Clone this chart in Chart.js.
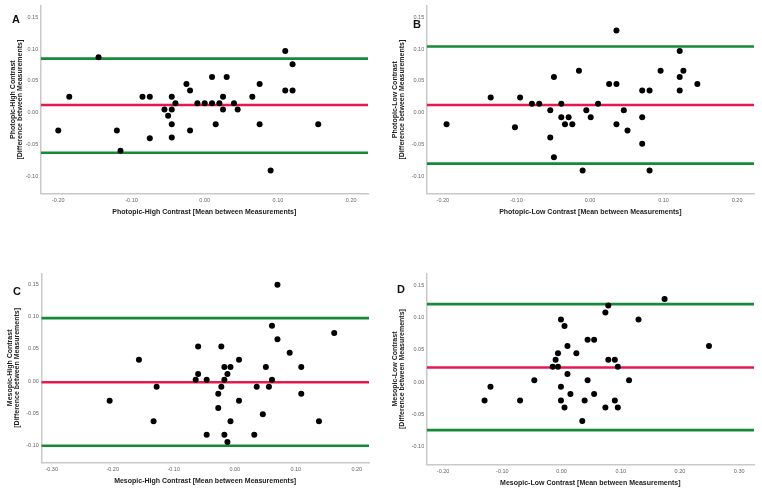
<!DOCTYPE html>
<html><head><meta charset="utf-8">
<script src="https://cdn.jsdelivr.net/npm/chart.js@4.4.1/dist/chart.umd.min.js"></script>
<style>
html,body{margin:0;padding:0;background:#fff;width:762px;height:493px;overflow:hidden;position:relative;}
.panel{position:absolute;width:381px;height:246px;}
.letter{position:absolute;font:bold 11px "Liberation Sans",Arial,sans-serif;color:#111;transform:translate(-50%,-50%);line-height:1;}
</style></head><body>
<div class="panel" style="left:0;top:0"><canvas id="cA" width="381" height="246"></canvas></div>
<div class="panel" style="left:381px;top:0"><canvas id="cB" width="381" height="246"></canvas></div>
<div class="panel" style="left:0;top:247px"><canvas id="cC" width="381" height="246"></canvas></div>
<div class="panel" style="left:381px;top:247px"><canvas id="cD" width="381" height="246"></canvas></div>
<div class="letter" style="left:16px;top:19px">A</div>
<div class="letter" style="left:417px;top:24px">B</div>
<div class="letter" style="left:17px;top:291px">C</div>
<div class="letter" style="left:401px;top:289px">D</div>
<script>
// ---- data ----
const panelLetters = ['A', 'B', 'C', 'D'];
const xTitles = [
  'Photopic-High Contrast [Mean between Measurements]',
  'Photopic-Low Contrast [Mean between Measurements]',
  'Mesopic-High Contrast [Mean between Measurements]',
  'Mesopic-Low Contrast [Mean between Measurements]'
];
const yTitleTop = ['Photopic-High Contrast', 'Photopic-Low Contrast', 'Mesopic-High Contrast', 'Mesopic-Low Contrast'];
const yTitleBottom = '[Difference between Measurements]';

const aX = [-0.20,-0.185,-0.145,-0.12,-0.115,-0.085,-0.075,-0.075,-0.055,-0.05,-0.045,-0.045,-0.045,-0.045,-0.04,-0.025,-0.02,-0.02,-0.01,0.00,0.01,0.01,0.015,0.02,0.025,0.025,0.03,0.04,0.045,0.065,0.075,0.075,0.09,0.11,0.11,0.12,0.12,0.155];
const aY = [-0.028,0.025,0.087,-0.028,-0.06,0.025,0.025,-0.04,0.005,-0.005,0.025,0.005,-0.018,-0.039,0.015,0.045,0.035,-0.028,0.015,0.015,0.056,0.015,-0.018,0.015,0.025,0.005,0.056,0.015,0.005,0.025,0.045,-0.018,-0.091,0.097,0.035,0.076,0.035,-0.018];

const bX = [-0.195,-0.135,-0.102,-0.095,-0.079,-0.069,-0.054,-0.054,-0.049,-0.049,-0.039,-0.039,-0.034,-0.029,-0.024,-0.015,-0.010,-0.005,0.001,0.011,0.026,0.036,0.036,0.036,0.046,0.051,0.071,0.071,0.071,0.081,0.081,0.096,0.122,0.122,0.122,0.127,0.146];
const bY = [-0.018,0.024,-0.023,0.024,0.014,0.014,0.004,-0.039,0.056,-0.070,0.014,-0.007,-0.018,-0.007,-0.018,0.066,-0.091,0.004,-0.007,0.014,0.045,0.129,0.045,-0.018,0.004,-0.028,0.035,-0.007,-0.049,0.035,-0.091,0.066,0.097,0.056,0.035,0.066,0.045];

const cX = [-0.205,-0.157,-0.133,-0.128,-0.064,-0.060,-0.060,-0.046,-0.046,-0.027,-0.027,-0.022,-0.022,-0.017,-0.017,-0.017,-0.012,-0.012,-0.007,-0.007,0.007,0.007,0.032,0.036,0.046,0.051,0.056,0.061,0.061,0.070,0.070,0.090,0.109,0.109,0.138,0.163];
const cY = [-0.031,0.033,-0.063,-0.009,0.002,0.054,0.011,0.002,-0.084,-0.020,-0.042,0.054,-0.009,0.022,0.002,-0.084,0.011,-0.095,0.022,-0.063,0.033,-0.031,-0.084,-0.009,-0.052,0.022,-0.009,0.086,0.002,0.150,0.065,0.044,0.022,-0.020,-0.063,0.075];

const dX = [-0.130,-0.120,-0.070,-0.046,-0.015,-0.010,-0.006,-0.006,-0.001,-0.001,-0.001,0.005,0.005,0.010,0.010,0.015,0.025,0.035,0.039,0.044,0.044,0.055,0.055,0.074,0.074,0.079,0.079,0.090,0.090,0.095,0.095,0.114,0.130,0.174,0.249];
const dY = [-0.028,-0.007,-0.028,0.003,0.024,0.035,0.045,0.024,0.097,-0.007,-0.028,0.087,-0.039,0.056,0.013,-0.018,0.045,-0.060,-0.028,0.066,0.003,0.066,-0.018,0.108,-0.039,0.119,0.035,0.035,-0.028,0.024,-0.039,0.003,0.097,0.129,0.056];

const meanDiff = [0.012, 0.012, -0.002, 0.023];
const upperLoA = [0.085, 0.104, 0.098, 0.121];
const lowerLoA = [-0.063, -0.080, -0.101, -0.074];

const xTicksA = [-0.20, -0.10, 0.00, 0.10, 0.20];
const xTicksB = [-0.20, -0.10, 0.00, 0.10, 0.20];
const xTicksC = [-0.30, -0.20, -0.10, 0.00, 0.10, 0.20];
const xTicksD = [-0.20, -0.10, 0.00, 0.10, 0.20, 0.30];
const yTicks = [-0.10, -0.05, 0.00, 0.05, 0.10, 0.15];

// ---- layout / style ----
const xRanges = [[-0.224, 0.223], [-0.222, 0.223], [-0.317, 0.220], [-0.2277, 0.325]];
const yRange = [-0.127, 0.168];
const areas = [
  {l: 40.7, t: 3, r: 368, b: 193.5, yt: 9.5},
  {l: 45.7, t: 3, r: 373, b: 193.5, yt: 10.5},
  {l: 41.3, t: 26.3, r: 369, b: 215.4, yt: 6.5},
  {l: 45.7, t: 26.7, r: 373, b: 217.4, yt: 10.5}
];
const W = 381, H = 246, XH = 25;
const FONT = '"Liberation Sans", Arial, Helvetica, sans-serif';
const GREEN = '#178a37', RED = '#e6194f';

const xs = [aX, bX, cX, dX], ys = [aY, bY, cY, dY];
const xTickSets = [xTicksA, xTicksB, xTicksC, xTicksD];
const ids = ['cA', 'cB', 'cC', 'cD'];

ids.forEach((id, i) => {
  const ar = areas[i];
  const [xmin, xmax] = xRanges[i];
  const hline = (v, color) => ({
    type: 'line',
    data: [{x: xmin, y: v}, {x: xmax, y: v}],
    borderColor: color, borderWidth: 2.6, pointRadius: 0, fill: false, tension: 0
  });
  new Chart(document.getElementById(id), {
    type: 'scatter',
    data: {
      datasets: [
        {
          label: panelLetters[i],
          data: xs[i].map((x, k) => ({x: x, y: ys[i][k]})),
          backgroundColor: '#000', borderColor: '#000', pointRadius: 3, borderWidth: 0
        },
        hline(meanDiff[i], RED),
        hline(upperLoA[i], GREEN),
        hline(lowerLoA[i], GREEN)
      ]
    },
    options: {
      responsive: false, animation: false, devicePixelRatio: 1,
      layout: {padding: {left: 0, top: ar.t, right: W - ar.r, bottom: H - ar.b - XH}},
      plugins: {legend: {display: false}, tooltip: {enabled: false}},
      scales: {
        x: {
          type: 'linear', min: xmin, max: xmax,
          grid: {display: false, drawTicks: false},
          border: {display: true, color: '#c9c9c9', width: 1.5},
          afterBuildTicks: s => { s.ticks = xTickSets[i].map(v => ({value: v})); },
          afterFit: s => { s.height = XH; },
          ticks: {autoSkip: false, maxRotation: 0, padding: 3.5, color: '#666', font: {family: FONT, size: 5.5},
                  callback: v => Number(v).toFixed(2)},
          title: {display: true, text: xTitles[i], color: '#222', padding: {top: 0, bottom: 3},
                  font: {family: FONT, size: 7, weight: 'bold', lineHeight: 1}}
        },
        y: {
          type: 'linear', min: yRange[0], max: yRange[1],
          grid: {display: false, drawTicks: false},
          border: {display: true, color: '#c9c9c9', width: 1.5},
          afterBuildTicks: s => { s.ticks = yTicks.map(v => ({value: v})); },
          afterFit: s => { s.width = ar.l; },
          ticks: {autoSkip: false, padding: 2.5, color: '#666', font: {family: FONT, size: 5.5},
                  callback: v => Number(v).toFixed(2)},
          title: {display: true, text: [yTitleTop[i], yTitleBottom], color: '#222',
                  padding: {top: ar.yt, bottom: 0},
                  font: {family: FONT, size: 7, weight: 'bold', lineHeight: 1}}
        }
      }
    }
  });
});
</script>
</body></html>
